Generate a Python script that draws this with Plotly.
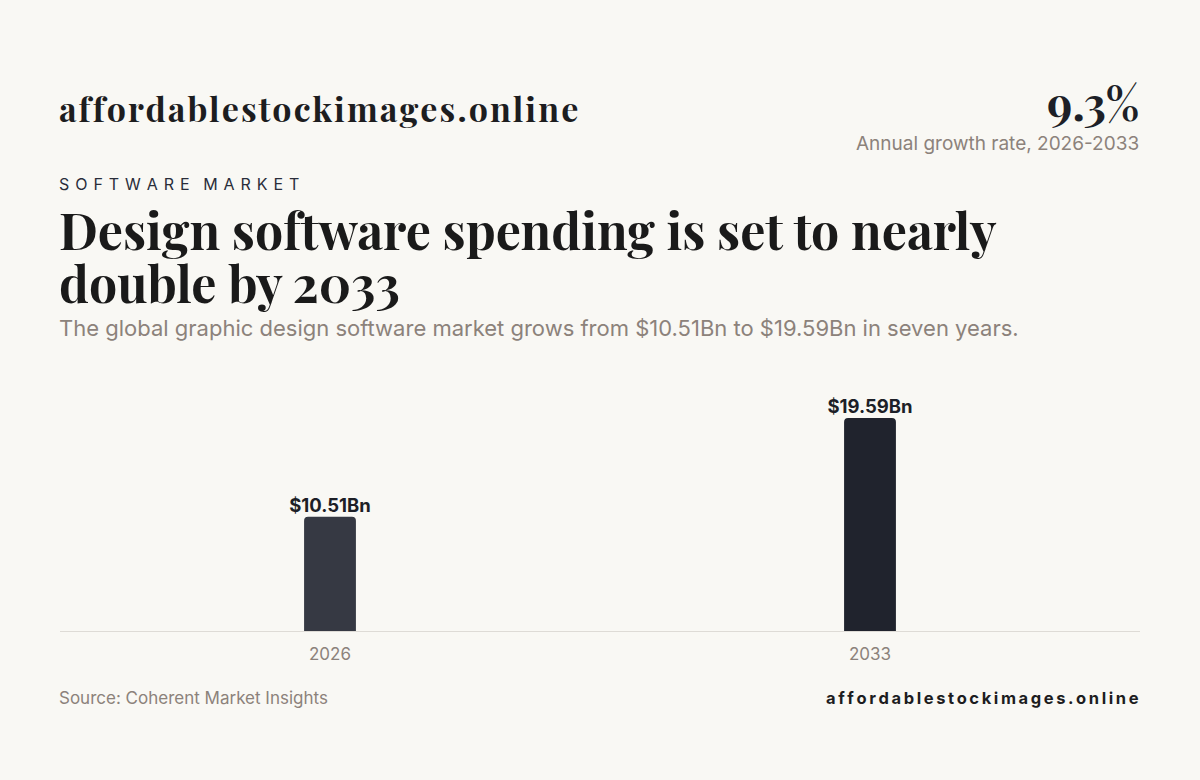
import plotly.graph_objects as go

years = ["2026", "2033"]
spend = [10.51, 19.59]
labels = ["$10.51Bn", "$19.59Bn"]
bar_colors = ["#363943", "#20232d"]

BG = "#f9f8f4"
SERIF = "Playfair Display, DejaVu Serif, serif"
SANS = "Inter, Roboto, sans-serif"

top, bottom = 380, 631
ph = bottom - top


def py(y):
    # pixel row -> paper y
    return (bottom - y) / ph


def spaced(s, sep="\u2009"):
    return sep.join(s)


fig = go.Figure(go.Bar(
    x=years, y=spend,
    marker=dict(color=bar_colors, cornerradius=4, line=dict(width=0)),
    width=0.096, hoverinfo="skip",
))
# value labels above the bars
fig.add_trace(go.Scatter(
    x=years, y=spend, mode="text", text=["<b>" + l + "</b>" for l in labels],
    textposition="top center", hoverinfo="skip", cliponaxis=False,
    textfont=dict(family=SANS, size=18.5, color="#1d1f27"),
))

ann = [
    dict(text="<b>" + spaced("affordablestockimages.online", "\u200a") + "</b>", x=0, y=py(108),
         xanchor="left", font=dict(family=SERIF, size=34, color="#1d1d1f")),
    dict(text="<b>9.3%</b>", x=1, y=py(102), xanchor="right",
         font=dict(family=SERIF, size=46, color="#1d1f27")),
    dict(text="Annual growth rate, 2026-2033", x=1, y=py(143), xanchor="right",
         font=dict(family=SANS, size=19, color="#8c827b")),
    dict(text=spaced("SOFTWARE", " \u200a") + "   " + spaced("MARKET", " \u200a"), x=0, y=py(184),
         xanchor="left", font=dict(family=SANS, size=16, color="#2a2d3a")),
    dict(text="<b>Design software spending is set to nearly</b>", x=0, y=py(229), xanchor="left",
         font=dict(family=SERIF, size=50, color="#1a1a1a")),
    dict(text="<b>double by 2033</b>", x=0, y=py(282), xanchor="left",
         font=dict(family=SERIF, size=50, color="#1a1a1a")),
    dict(text="The global graphic design software market grows from $10.51Bn to $19.59Bn in seven years.",
         x=0, y=py(328), xanchor="left",
         font=dict(family=SANS, size=22, color="#8c827b")),
    dict(text="Source: Coherent Market Insights", x=0, y=py(698), xanchor="left",
         font=dict(family=SANS, size=17, color="#8c827b")),
    dict(text="<b>" + spaced("affordablestockimages.online") + "</b>", x=1, y=py(698), xanchor="right",
         font=dict(family=SANS, size=16.5, color="#1d1d1f")),
]
for a in ann:
    a.update(xref="paper", yref="paper", yanchor="middle", showarrow=False, borderpad=0,
             xshift=-2 if a["xanchor"] == "left" else 0)

fig.update_layout(
    width=1200, height=780, paper_bgcolor=BG, plot_bgcolor=BG,
    margin=dict(l=60, r=60, t=top, b=780 - bottom),
    showlegend=False, annotations=ann,
    xaxis=dict(type="category", showgrid=False, showline=True, linecolor="#dedbd6", linewidth=1,
               tickfont=dict(family=SANS, size=17, color="#8c827b"), ticks="",
               ticklabelstandoff=8),
    yaxis=dict(visible=False, range=[0, 19.59 * ph / 213]),
)

fig.write_html("out.html", post_script="document.body.style.margin='0';",
               config={"displayModeBar": False})
